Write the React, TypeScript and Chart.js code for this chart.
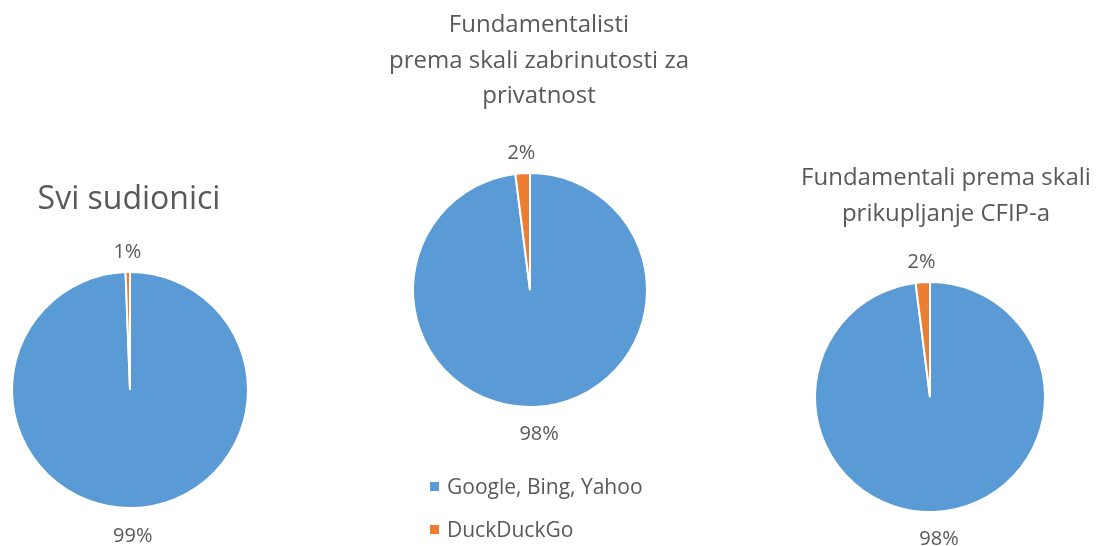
import React, { useEffect, useRef } from "react";
import { Chart, registerables } from "chart.js";

Chart.register(...registerables);

const categories = ["Google, Bing, Yahoo", "DuckDuckGo"];
const colors = ["#5B9BD5", "#ED7D31"];
const sviValues = [99.4, 0.6];
const privatnostValues = [98, 2];
const cfipValues = [98, 2];

const titleSvi = ["Svi sudionici"];
const titlePrivatnost = ["Fundamentalisti", "prema skali zabrinutosti za", "privatnost"];
const titleCfip = ["Fundamentali prema skali", "prikupljanje CFIP-a"];

const FONT = "'Open Sans', 'DejaVu Sans', sans-serif";
const TEXT = "#595959";

const outsideLabels = {
  id: "outsideLabels",
  afterDatasetsDraw(chart: any) {
    const ctx = chart.ctx;
    const meta = chart.getDatasetMeta(0);
    const data = chart.data.datasets[0].data as number[];
    const total = data.reduce((a, b) => a + b, 0);
    ctx.save();
    ctx.font = `20px ${FONT}`;
    ctx.fillStyle = TEXT;
    ctx.textAlign = "center";
    ctx.textBaseline = "middle";
    meta.data.forEach((arc: any, i: number) => {
      const a = (arc.startAngle + arc.endAngle) / 2;
      const d = 20 + 8 * Math.max(0, Math.sin(a));
      const x = arc.x + Math.cos(a) * (arc.outerRadius + d);
      const y = arc.y + Math.sin(a) * (arc.outerRadius + d);
      ctx.fillText(Math.round((data[i] / total) * 100) + "%", x, y);
    });
    ctx.restore();
  },
};

function Pie({ cx, cy, r, values }: { cx: number; cy: number; r: number; values: number[] }) {
  const ref = useRef<HTMLCanvasElement>(null);
  const pad = 45;
  const w = 2 * r + 2 * pad;
  useEffect(() => {
    const chart = new Chart(ref.current!, {
      type: "pie",
      data: {
        labels: categories,
        datasets: [
          {
            data: values,
            backgroundColor: colors,
            borderColor: "#ffffff",
            borderWidth: 2,
          },
        ],
      },
      options: {
        responsive: false,
        animation: false,
        devicePixelRatio: 1,
        events: [],
        layout: { padding: pad - 1 },
        plugins: { legend: { display: false }, tooltip: { enabled: false } },
      },
      plugins: [outsideLabels],
    });
    return () => chart.destroy();
  }, []);
  return (
    <canvas
      ref={ref}
      width={w}
      height={w}
      style={{ position: "absolute", left: cx - r - pad, top: cy - r - pad, width: w, height: w }}
    />
  );
}

function Title({ lines, cx, top, size, lh }: { lines: string[]; cx: number; top: number; size: number; lh: number }) {
  return (
    <div
      style={{
        position: "absolute",
        left: cx - 250,
        width: 500,
        top,
        textAlign: "center",
        fontFamily: FONT,
        fontSize: size,
        lineHeight: lh + "px",
        color: TEXT,
        whiteSpace: "nowrap",
      }}
    >
      {lines.map((l, i) => (
        <div key={i}>{l}</div>
      ))}
    </div>
  );
}

export default function App() {
  return (
    <div style={{ position: "fixed", left: 0, top: 0, width: 1099, height: 546 }}>
      <Title lines={titleSvi} cx={129} top={177} size={32} lh={40} />
      <Title lines={titlePrivatnost} cx={539} top={5} size={24} lh={35.5} />
      <Title lines={titleCfip} cx={946} top={158} size={24} lh={35.5} />
      <Pie cx={130} cy={390} r={118} values={sviValues} />
      <Pie cx={530} cy={290} r={117} values={privatnostValues} />
      <Pie cx={930} cy={397} r={115} values={cfipValues} />
      <div style={{ position: "absolute", left: 430, top: 472, fontFamily: FONT, fontSize: 21, color: TEXT }}>
        {categories.map((c, i) => (
          <div key={i} style={{ display: "flex", alignItems: "center", height: 28, marginBottom: i === 0 ? 15 : 0 }}>
            <span style={{ display: "inline-block", width: 9, height: 9, background: colors[i], marginRight: 8 }} />
            <span>{c}</span>
          </div>
        ))}
      </div>
    </div>
  );
}
